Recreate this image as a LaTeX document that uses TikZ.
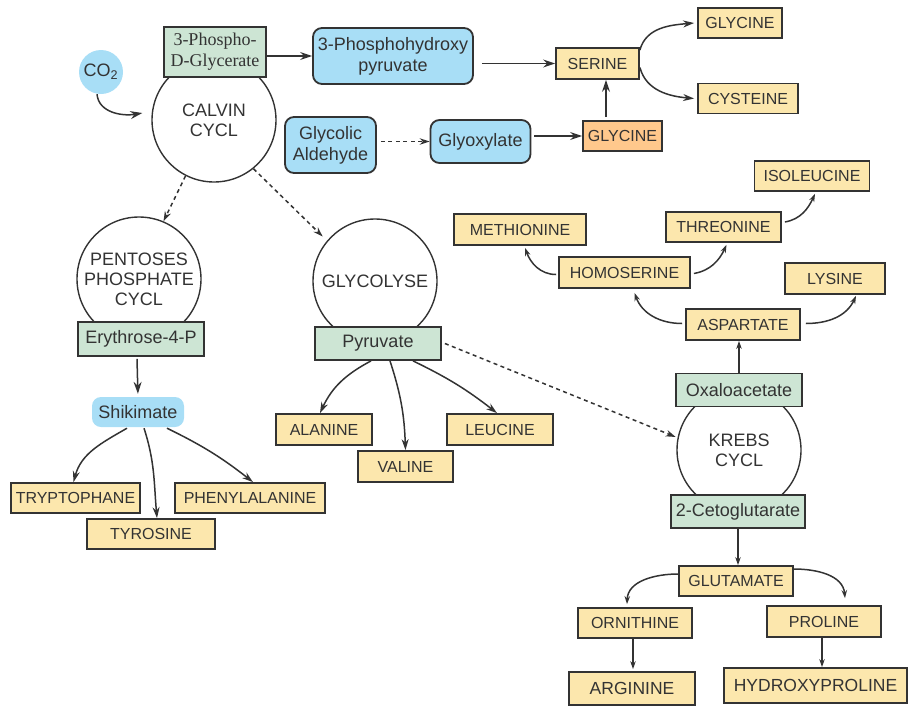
\documentclass[tikz,border=0pt]{standalone}
\usepackage{fontspec}
\setmainfont{Liberation Sans}
\newfontfamily\pdgfont{Liberation Serif}
\usetikzlibrary{arrows.meta}
\definecolor{linec}{RGB}{51,51,51}
\definecolor{aafill}{RGB}{252,231,173}
\definecolor{metfill}{RGB}{205,229,212}
\definecolor{bluefill}{RGB}{168,222,246}
\definecolor{orfill}{RGB}{255,200,140}

\begin{document}
\begin{tikzpicture}[x=1pt,y=1pt,
    aa/.style={draw=linec,fill=aafill,line width=1.8pt,text=linec,inner sep=0pt,
      font=\fontsize{16}{19}\selectfont},
    aabig/.style={aa,font=\fontsize{17.5}{20}\selectfont},
    met/.style={aa,fill=metfill,font=\fontsize{18}{21}\selectfont,align=center},
    mol/.style={fill=bluefill,rounded corners=9pt,text=linec,inner sep=0pt,align=center,
      font=\fontsize{18}{21}\selectfont},
    molbox/.style={mol,draw=linec,line width=1.8pt},
    cyc/.style={circle,draw=linec,line width=1.4pt,minimum size=124pt,inner sep=0pt,
      text=linec,align=center,font=\fontsize{18}{20}\selectfont},
    con/.style={draw=linec,line width=1.5pt,-{Stealth[length=12pt,width=8pt]}},
    bra/.style={draw=linec,line width=1.5pt,-{Stealth[length=11pt,width=7pt]}},
    twig/.style={draw=linec,line width=1.5pt,-{Stealth[length=8pt,width=5.5pt]}},
    dashlink/.style={con,dash pattern=on 4pt off 3.5pt,-{Stealth[length=10pt,width=6.5pt]}}]
  \useasboundingbox (0,0) rectangle (909,-707);

  % cycles first, the boxes sit on them
  \node[cyc] (calvin) at (214,-120) {CALVIN\\CYCL};
  \node[cyc] (pentoses) at (139,-279) {PENTOSES\\PHOSPHATE\\CYCL};
  \node[cyc] (glycolyse) at (375,-281) {GLYCOLYSE};
  \node[cyc] (krebs) at (739,-450) {KREBS\\CYCL};

  \node[circle,fill=bluefill,minimum size=44pt,inner sep=0pt,text=linec,
    font=\fontsize{18}{21}\selectfont] (co2) at (101,-72) {CO\textsubscript{2}};
  \node[met,minimum width=102pt,minimum height=50pt,font=\pdgfont\fontsize{18}{21}\selectfont]
    (pdg) at (215,-52) {3-Phospho-\\D-Glycerate};
  \node[molbox,minimum width=160pt,minimum height=56pt] (php) at (393,-56) {3-Phosphohydroxy\\pyruvate};
  \node[aa,minimum width=83pt,minimum height=31pt] (serine) at (597.5,-63.5) {SERINE};
  \node[aa,minimum width=84pt,minimum height=30pt] (glya) at (740,-23) {GLYCINE};
  \node[aa,minimum width=100pt,minimum height=30pt] (cys) at (748,-98.5) {CYSTEINE};
  \node[molbox,minimum width=91pt,minimum height=56pt] (glycolic) at (330.5,-145) {Glycolic\\Aldehyde};
  \node[molbox,minimum width=100pt,minimum height=43pt] (glyox) at (480.5,-141.5) {Glyoxylate};
  \node[aa,fill=orfill,minimum width=79pt,minimum height=30pt] (glyb) at (622.5,-136) {GLYCINE};

  \node[aa,minimum width=115pt,minimum height=30pt] (iso) at (812,-176) {ISOLEUCINE};
  \node[aa,minimum width=132pt,minimum height=31pt] (meth) at (520,-229.5) {METHIONINE};
  \node[aa,minimum width=115pt,minimum height=30pt] (thr) at (723.5,-227) {THREONINE};
  \node[aa,minimum width=131pt,minimum height=31pt] (homo) at (624.5,-272.5) {HOMOSERINE};
  \node[aa,minimum width=100pt,minimum height=31pt] (lys) at (835,-278.5) {LYSINE};
  \node[aa,minimum width=114pt,minimum height=31pt] (asp) at (743,-324.5) {ASPARTATE};
  \node[met,minimum width=126pt,minimum height=33pt] (oxa) at (739,-390) {Oxaloacetate};
  \node[met,minimum width=134pt,minimum height=33pt] (ceto) at (738,-511.5) {2-Cetoglutarate};
  \node[aa,minimum width=114pt,minimum height=30pt] (glu) at (736,-581) {GLUTAMATE};
  \node[aa,minimum width=114pt,minimum height=30pt] (orn) at (635,-623) {ORNITHINE};
  \node[aa,minimum width=114pt,minimum height=31pt] (pro) at (824,-621.5) {PROLINE};
  \node[aabig,minimum width=126pt,minimum height=33pt] (arg) at (632,-688.5) {ARGININE};
  \node[aabig,minimum width=183pt,minimum height=35pt] (hyp) at (815.5,-685.5) {HYDROXYPROLINE};

  \node[met,minimum width=126pt,minimum height=34pt] (ery) at (141,-339) {Erythrose-4-P};
  \node[mol,minimum width=92pt,minimum height=30pt] (shik) at (138,-412) {Shikimate};
  \node[aa,minimum width=129pt,minimum height=30pt] (trp) at (75.5,-498) {TRYPTOPHANE};
  \node[aa,minimum width=128pt,minimum height=30pt] (tyr) at (151,-534) {TYROSINE};
  \node[aa,minimum width=150pt,minimum height=30pt] (phe) at (250,-498) {PHENYLALANINE};
  \node[met,minimum width=126pt,minimum height=33pt] (pyr) at (378,-343.5) {Pyruvate};
  \node[aa,minimum width=96pt,minimum height=31pt] (ala) at (324,-429.5) {ALANINE};
  \node[aa,minimum width=95pt,minimum height=31pt] (val) at (405.5,-466.5) {VALINE};
  \node[aa,minimum width=106pt,minimum height=31pt] (leu) at (500,-429.5) {LEUCINE};

  % top: calvin and serine
  \draw[con] ([xshift=-4pt]co2.south) to[out=-85,in=190] ([xshift=-9pt,yshift=7pt]calvin.west);
  \draw[con] (pdg.east |- php.west) -- (php.west);
  \draw[con] ([xshift=8pt]php.east |- serine.west) -- (serine.west);
  \draw[bra] ([yshift=-3pt]serine.north east) to[out=75,in=185] ([xshift=-3pt]glya.west);
  \draw[bra] ([yshift=-4pt]serine.east) to[out=-75,in=175] ([xshift=-3pt]cys.west);
  \draw[dashlink] ([xshift=4pt]glycolic.east |- glyox.west) -- (glyox.west);
  \draw[con] ([xshift=3pt]glyox.east |- glyb.west) -- (glyb.west);
  \draw[con] ([xshift=-16.5pt,yshift=3pt]glyb.north) -- ([xshift=8.5pt]serine.south);

  % dashed links between cycles
  \draw[dashlink] (calvin.243) -- (pentoses.67);
  \draw[dashlink,shorten >=6pt] (calvin.-51) -- (glycolyse.140);
  \draw[dashlink] ([xshift=3pt]pyr.east) -- ([xshift=-2pt]krebs.168);

  % shikimate branch
  \draw[con,shorten >=3pt] ([xshift=-4pt,yshift=-2pt]ery.south) -- (shik.north);
  \draw[bra] ([xshift=-11pt,yshift=-1pt]shik.south) to[out=210,in=75] ([xshift=-2pt]trp.north);
  \draw[bra] ([xshift=6pt,yshift=-1pt]shik.south) to[out=-72,in=95] ([xshift=6pt]tyr.north);
  \draw[bra] ([xshift=29pt,yshift=-1pt]shik.south) to[bend left=6] ([xshift=3pt]phe.north);

  % pyruvate branch
  \draw[bra] ([xshift=-7pt]pyr.south) to[out=208,in=65] ([xshift=-4pt]ala.north);
  \draw[bra] ([xshift=12pt]pyr.south) to[out=-72,in=92] (val.north);
  \draw[bra] ([xshift=35pt]pyr.south) to[bend left=6] ([xshift=-3pt]leu.north);

  % aspartate family
  \draw[twig] (oxa.north) -- (oxa.north |- asp.south);
  \draw[twig] ([xshift=-3pt,yshift=1pt]asp.west) to[out=180,in=-70] ([xshift=10pt,yshift=-4pt]homo.south);
  \draw[twig] ([xshift=5pt,yshift=1pt]asp.east) to[out=0,in=-115] ([xshift=21pt,yshift=-1pt]lys.south);
  \draw[twig] ([xshift=-2pt,yshift=-2pt]homo.west) to[out=180,in=-70] ([xshift=5pt,yshift=-2pt]meth.south);
  \draw[twig] ([xshift=3pt,yshift=-1pt]homo.east) to[out=10,in=-115] ([xshift=3pt,yshift=-2pt]thr.south);
  \draw[twig] ([xshift=3pt,yshift=5pt]thr.east) to[out=10,in=-115] ([xshift=3pt,yshift=-2pt]iso.south);

  % glutamate family
  \draw[twig] (ceto.south) -- (ceto.south |- glu.north);
  \draw[twig] ([yshift=7pt]glu.west) to[out=180,in=88] ([xshift=-8pt,yshift=3pt]orn.north);
  \draw[twig] ([yshift=12pt]glu.east) to[out=0,in=95] ([xshift=21pt,yshift=7pt]pro.north);
  \draw[twig,shorten >=2pt] ([xshift=-2pt]orn.south) -- ([xshift=1pt]arg.north);
  \draw[twig] ([xshift=-2pt]pro.south) -- ([xshift=6.5pt]hyp.north);
\end{tikzpicture}
\end{document}
